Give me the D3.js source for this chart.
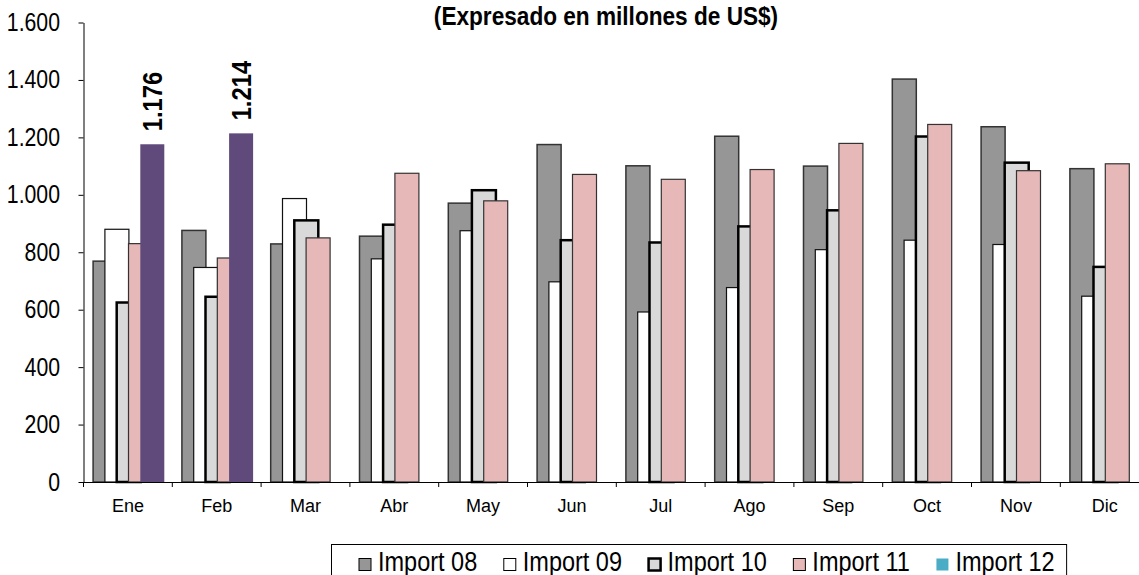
<!DOCTYPE html>
<html>
<head>
<meta charset="utf-8">
<script src="https://cdn.jsdelivr.net/npm/d3@7"></script>
<style>
  body { margin: 0; background: #fff; }
  svg { display: block; font-family: "Liberation Sans", Arial, sans-serif; }
</style>
</head>
<body>
<svg id="chart" width="1139" height="575"></svg>
<script>
// values (millones de US$)
const months = ["Ene", "Feb", "Mar", "Abr", "May", "Jun", "Jul", "Ago", "Sep", "Oct", "Nov", "Dic"];
const import08 = [769, 876, 829, 856, 971, 1175, 1101, 1204, 1100, 1403, 1237, 1091];
const import09 = [880, 747, 987, 777, 875, 697, 592, 677, 809, 842, 827, 647];
const import10 = [625, 645, 911, 896, 1016, 842, 834, 890, 946, 1203, 1112, 749];
const import11 = [830, 780, 850, 1075, 979, 1071, 1054, 1088, 1179, 1245, 1084, 1108];
const import12 = [1176, 1214, null, null, null, null, null, null, null, null, null, null];
const seriesNames = ["Import 08", "Import 09", "Import 10", "Import 11", "Import 12"];
const seriesValues = [import08, import09, import10, import11, import12];
const yTicks = [0, 200, 400, 600, 800, 1000, 1200, 1400, 1600];
const title = "(Expresado en millones de US$)";

const styles = {
  "Import 08": { fill: "#969696", stroke: "#333", sw: 1.5, key: "#969696" },
  "Import 09": { fill: "#fff", stroke: "#111", sw: 1.2, key: "#fff" },
  "Import 10": { fill: "#d9d9d9", stroke: "#000", sw: 2.5, key: "#d9d9d9" },
  "Import 11": { fill: "#e6b8b7", stroke: "#333", sw: 1.2, key: "#e6b8b7" },
  "Import 12": { fill: "#604a7b", stroke: "none", sw: 0, key: "#4bacc6" }
};

const svg = d3.select("#chart");
const plotLeft = 83.5, plotTop = 22.5, plotBottom = 482, bandW = 88.8;
const barW = 24, barStep = 11.8, groupPad = 9.6;
const narrow = 0.85; // text in the original is a bit condensed

const x = d3.scaleBand()
  .domain(months)
  .range([plotLeft, plotLeft + months.length * bandW]);

const xSeries = d3.scaleLinear()
  .domain([0, seriesNames.length - 1])
  .range([groupPad, groupPad + barStep * (seriesNames.length - 1)]);

const y = d3.scaleLinear()
  .domain([0, 1600])
  .range([plotBottom, plotTop]);

const fmt = d3.formatLocale({ decimal: ",", thousands: ".", grouping: [3], currency: ["", "$"] }).format(",d");

// bars, series by series so later ones sit on top
seriesNames.forEach((name, i) => {
  const st = styles[name];
  const rows = months.map((m, j) => ({ m, v: seriesValues[i][j] })).filter(d => d.v != null);
  svg.append("g")
    .attr("class", "series")
    .selectAll("rect")
    .data(rows)
    .join("rect")
      .attr("x", d => x(d.m) + xSeries(i))
      .attr("y", d => y(d.v))
      .attr("width", barW)
      .attr("height", d => y(0) - y(d.v))
      .attr("fill", st.fill)
      .attr("stroke", st.stroke)
      .attr("stroke-width", st.sw);
});

// y axis
const yAxis = svg.append("g")
  .attr("transform", `translate(${plotLeft},0)`)
  .call(d3.axisLeft(y).tickValues(yTicks).tickSize(5).tickSizeOuter(0).tickFormat(fmt));
yAxis.select(".domain").attr("stroke", "#000");
yAxis.selectAll(".tick line").attr("stroke", "#000");
yAxis.selectAll(".tick text")
  .attr("font-size", 25)
  .attr("fill", "#000")
  .attr("transform", `scale(${narrow},1)`)
  .attr("x", -23.5 / narrow);

// x axis: labels centred, ticks on the band edges
const xAxis = svg.append("g")
  .attr("transform", `translate(0,${plotBottom})`)
  .call(d3.axisBottom(x).tickSize(0).tickSizeOuter(0).tickPadding(17));
xAxis.select(".domain").attr("stroke", "#000");
xAxis.selectAll(".tick text").attr("font-size", 18).attr("fill", "#000");

svg.append("g")
  .selectAll("line")
  .data(months.concat(["end"]))
  .join("line")
    .attr("x1", (d, i) => x.range()[0] + i * x.step())
    .attr("x2", (d, i) => x.range()[0] + i * x.step())
    .attr("y1", plotBottom)
    .attr("y2", plotBottom + 5)
    .attr("stroke", "#000");

// value labels on the 2012 bars
const lastIdx = seriesNames.length - 1;
svg.append("g")
  .selectAll("text")
  .data(months.map((m, j) => ({ m, v: import12[j] })).filter(d => d.v != null))
  .join("text")
    .attr("transform", d => `translate(${x(d.m) + xSeries(lastIdx) + barW / 2},${y(d.v) - 13}) rotate(-90) scale(${narrow},1)`)
    .attr("dy", "0.35em")
    .attr("font-size", 28)
    .attr("font-weight", "bold")
    .text(d => fmt(d.v));

// title
svg.append("text")
  .attr("transform", `translate(606,25) scale(0.87,1)`)
  .attr("text-anchor", "middle")
  .attr("font-size", 26)
  .attr("font-weight", "bold")
  .text(title);

// legend
const legend = svg.append("g");
const legBox = legend.append("rect")
  .attr("x", 331.5)
  .attr("y", 544.5)
  .attr("height", 60)
  .attr("fill", "#fff")
  .attr("stroke", "#000");

const legGap = 26.6;
let cursor = 359;
seriesNames.forEach(name => {
  const st = styles[name];
  const item = legend.append("g");
  item.append("rect")
    .attr("x", cursor)
    .attr("y", 558.5)
    .attr("width", 12)
    .attr("height", 12)
    .attr("fill", st.key)
    .attr("stroke", st.stroke === "none" ? "none" : "#000")
    .attr("stroke-width", name === "Import 10" ? 2.5 : 1);
  const t = item.append("text")
    .attr("transform", `translate(${cursor + 19},571) scale(0.87,1)`)
    .attr("font-size", 27)
    .text(name);
  cursor += 19 + t.node().getComputedTextLength() * 0.87 + legGap;
});
legBox.attr("width", cursor - legGap + 12 - 331.5);
</script>
</body>
</html>
